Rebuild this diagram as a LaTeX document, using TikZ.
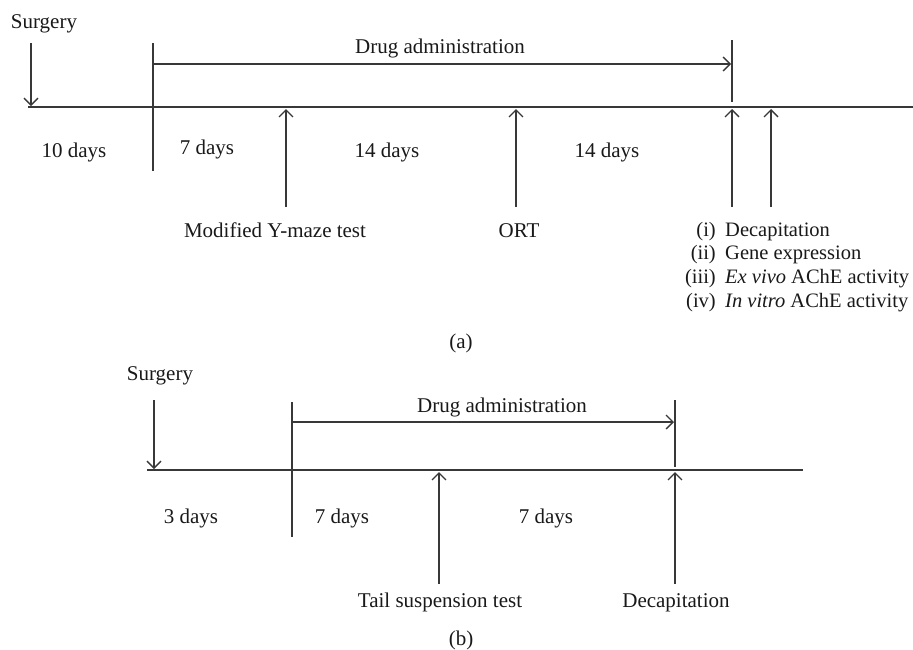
\documentclass[tikz,border=0pt]{standalone}
\usepackage{fontspec}
\setmainfont{Liberation Serif}
\usetikzlibrary{arrows.meta}
\begin{document}
\begin{tikzpicture}[x=1pt,y=-1pt,
  ln/.style={line width=1.5pt, draw=black!78},
  arr/.style={ln, -{Straight Barb[length=7pt,width=14pt,line width=1.3pt]}},
  lbl/.style={anchor=base, inner sep=0pt, font=\fontsize{21}{24}\selectfont, text=black!90},
  lst/.style={lbl, font=\fontsize{20.5}{24}\selectfont}]
\useasboundingbox (0,0) rectangle (913,649);
% ---------- panel (a) ----------
\coordinate (aL) at (28,107);
\coordinate (aR) at (913,107);
\draw[ln] (aL) -- (aR);
\coordinate (aS1) at (31,43);  \coordinate (aS2) at (31,106);
\draw[arr] (aS1) -- (aS2);
\node[lbl] (aSurg) at (44,28) {Surgery};
\coordinate (aT1) at (153,43); \coordinate (aT2) at (153,171);
\draw[ln] (aT1) -- (aT2);
\coordinate (aD1) at (153,64); \coordinate (aD2) at (731,64);
\draw[arr] (aD1) -- (aD2);
\node[lbl] (aDrug) at (440,53) {Drug administration};
\coordinate (aE1) at (732,40); \coordinate (aE2) at (732,102);
\draw[ln] (aE1) -- (aE2);
\coordinate (aY1) at (286,207); \coordinate (aY2) at (286,109);
\draw[arr] (aY1) -- (aY2);
\coordinate (aO1) at (516,207); \coordinate (aO2) at (516,109);
\draw[arr] (aO1) -- (aO2);
\coordinate (aP1) at (732,207); \coordinate (aP2) at (732,109);
\draw[arr] (aP1) -- (aP2);
\coordinate (aQ1) at (771,207); \coordinate (aQ2) at (771,109);
\draw[arr] (aQ1) -- (aQ2);
\node[lbl] (a10) at (74,157) {10 days};
\node[lbl] (a7) at (207,154) {7 days};
\node[lbl] (a14a) at (387,157) {14 days};
\node[lbl] (a14b) at (607,157) {14 days};
\node[lbl] (aYm) at (275,237) {Modified Y-maze test};
\node[lbl] (aOrt) at (519,237) {ORT};
\node[lst,anchor=base east] (an1) at (716,236) {(i)};
\node[lst,anchor=base west] (at1) at (725,236) {Decapitation};
\node[lst,anchor=base east] (an2) at (716,259) {(ii)};
\node[lst,anchor=base west] (at2) at (725,259) {Gene expression};
\node[lst,anchor=base east] (an3) at (716,283) {(iii)};
\node[lst,anchor=base west] (at3) at (725,283) {\textit{Ex vivo} AChE activity};
\node[lst,anchor=base east] (an4) at (716,307) {(iv)};
\node[lst,anchor=base west] (at4) at (725,307) {\textit{In vitro} AChE activity};
\node[lbl] (acap) at (461,348) {(a)};
% ---------- panel (b) ----------
\coordinate (bL) at (147,470);
\coordinate (bR) at (803,470);
\draw[ln] (bL) -- (bR);
\coordinate (bS1) at (154,400); \coordinate (bS2) at (154,469);
\draw[arr] (bS1) -- (bS2);
\node[lbl] (bSurg) at (160,380) {Surgery};
\coordinate (bT1) at (292,402); \coordinate (bT2) at (292,537);
\draw[ln] (bT1) -- (bT2);
\coordinate (bD1) at (292,422); \coordinate (bD2) at (674,422);
\draw[arr] (bD1) -- (bD2);
\node[lbl] (bDrug) at (502,412) {Drug administration};
\coordinate (bE1) at (675,400); \coordinate (bE2) at (675,467);
\draw[ln] (bE1) -- (bE2);
\coordinate (bU1) at (439,584); \coordinate (bU2) at (439,472);
\draw[arr] (bU1) -- (bU2);
\coordinate (bV1) at (675,584); \coordinate (bV2) at (675,472);
\draw[arr] (bV1) -- (bV2);
\node[lbl] (b3) at (191,523) {3 days};
\node[lbl] (b7a) at (342,523) {7 days};
\node[lbl] (b7b) at (546,523) {7 days};
\node[lbl] (bTail) at (440,607) {Tail suspension test};
\node[lbl] (bDec) at (676,607) {Decapitation};
\node[lbl] (bcap) at (461,645) {(b)};
\end{tikzpicture}
\end{document}
